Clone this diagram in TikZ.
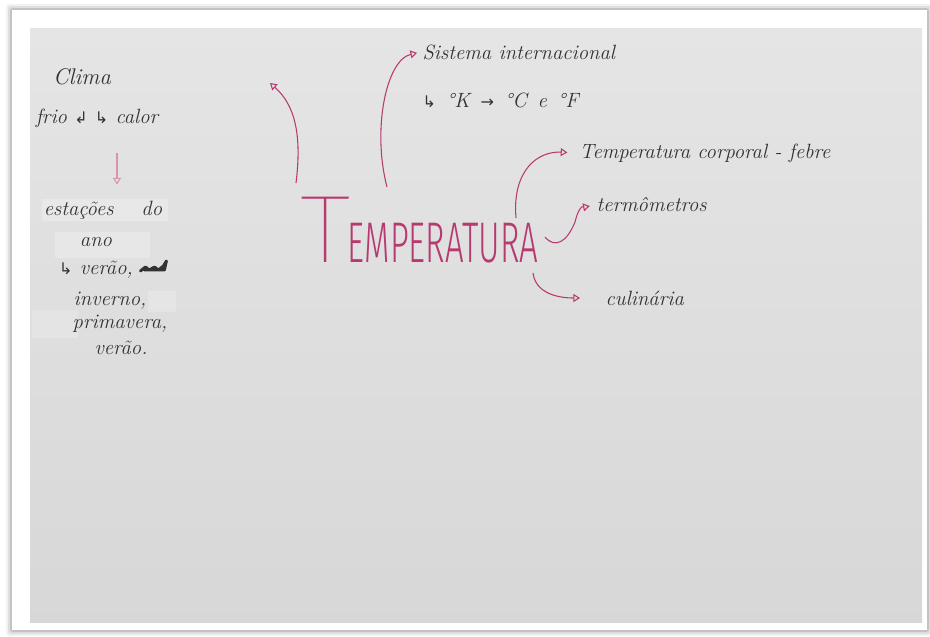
\documentclass[tikz,border=0pt]{standalone}
\usepackage{fontspec}
\usepackage{graphicx}
\usetikzlibrary{arrows.meta, positioning}
\newfontfamily\symfont{DejaVu Sans}
\newfontfamily\thinfont{Fira Sans Light}
\IfFontExistsTF{Fira Sans Thin}
    {\newfontfamily\hairfont{Fira Sans Thin}}
    {\newfontfamily\hairfont{Fira Sans Light}}
\definecolor{paper}{RGB}{229,229,229}
\definecolor{ink}{RGB}{50,50,52}
\definecolor{pinkink}{RGB}{182,58,112}
\newcommand{\hook}[1]{{\symfont\fontsize{12}{12}\selectfont #1}}

\begin{document}
\begin{tikzpicture}[
    x=0.75pt, y=-0.75pt,
    note/.style={
        text=ink,
        font=\fontsize{15.5}{18}\selectfont\itshape,
        inner sep=1pt
    },
    title/.style={
        text=pinkink,
        inner sep=0pt,
        anchor=base west
    },
    pinkarrow/.style={
        -{Triangle[open, length=5pt, width=6pt]},
        pinkink,
        line width=0.8pt
    }
]
    % card and paper
    \useasboundingbox (0,0) rectangle (930,636);
    \fill[white] (0,0) rectangle (930,636);
    \foreach \d/\o in {6/0.05, 4/0.08, 2/0.12}
        \fill[black, opacity=\o, rounded corners=2pt] (12-\d,10-\d) rectangle (927+\d,630+\d);
    \fill[white] (12,10) rectangle (927,630);
    \shade[top color=paper, bottom color=paper!94!black] (30,28) rectangle (922,622);

    % correction tape
    \fill[white, opacity=0.25] (42,199) rectangle (168,221);
    \fill[white, opacity=0.25] (55,232) rectangle (150,258);
    \fill[white, opacity=0.2] (148,291) rectangle (176,312);
    \fill[white, opacity=0.2] (32,310) rectangle (78,338);

    % left column
    \node[note, font=\fontsize{17}{20}\selectfont\itshape] (clima) at (82,77) {Clima};
    \node[note] (frio) at (97,118) {frio \hook{↲} \hook{↳} calor};
    \node[note] (estacoes) at (103,210) {estações \quad do};
    \node[note] (ano) at (96,242) {ano};
    \node[note] (verao) at (96,270) {\hook{↳} verão,};
    \node[note] (inverno) at (110,301) {inverno,};
    \node[note] (primavera) at (120,324) {primavera,};
    \node[note] (veraoB) at (121,348) {verão.};

    \draw[pinkarrow, pinkink!55, shorten <=18pt, shorten >=11pt]
        ([shift={(20,0)}]frio.south) -- ([shift={(14,0)}]estacoes.north);
    % crossed out word
    \draw[ink, line width=2.2pt, line cap=round, line join=round]
        ([shift={(6,1)}]verao.east) -- ++(5,-4) -- ++(4,3) -- ++(5,-3) -- ++(4,3)
        -- ++(5,-4) -- ++(3,-5) -- ++(-2,9) -- ++(-20,0);

    % centre
    \node[title] (temp) at (300,262)
        {{\hairfont\fontsize{72}{72}\selectfont\scalebox{1.1}[1]{T}}\kern-2pt%
         {\thinfont\fontsize{43}{43}\selectfont\scalebox{0.575}[1]{EMPERATURA}}};

    % right side
    \node[note, anchor=west] (sistema) at (421,52) {Sistema internacional};
    \node[note, anchor=west] (escalas) at (421,100) {\hook{↳}\, °K \,\hook{→}\, °C \,e\, °F};
    \node[note, anchor=west] (corporal) at (578,153) {Temperatura corporal - febre};
    \node[note, anchor=west] (termometros) at (595,205) {termômetros};
    \node[note, anchor=west] (culinaria) at (604,298) {culinária};

    \coordinate (up1) at (270,83);

    \draw[pinkarrow] ([shift={(-4,-79)}]temp.base west)
        .. controls +(6,-48) and +(25,22) .. (up1);
    \draw[pinkarrow, shorten >=3pt] ([shift={(87,-75)}]temp.base west)
        .. controls +(-15,-57) and +(-35,8) .. (sistema.west);
    \draw[pinkarrow, shorten >=8pt] ([shift={(216,-44)}]temp.base west)
        .. controls +(-4,-48) and +(-40,-2) .. (corporal.west);
    \draw[pinkarrow, shorten >=4pt] ([shift={(245,-25)}]temp.base west)
        .. controls +(10,12) and +(-8,20) .. ++(30,-15)
        .. controls +(5,-20) and +(-10,2) .. (termometros.west);
    \draw[pinkarrow, shorten >=18pt] ([shift={(233,11)}]temp.base west)
        .. controls +(3,25) and +(-35,0) .. (culinaria.west);
\end{tikzpicture}
\end{document}
